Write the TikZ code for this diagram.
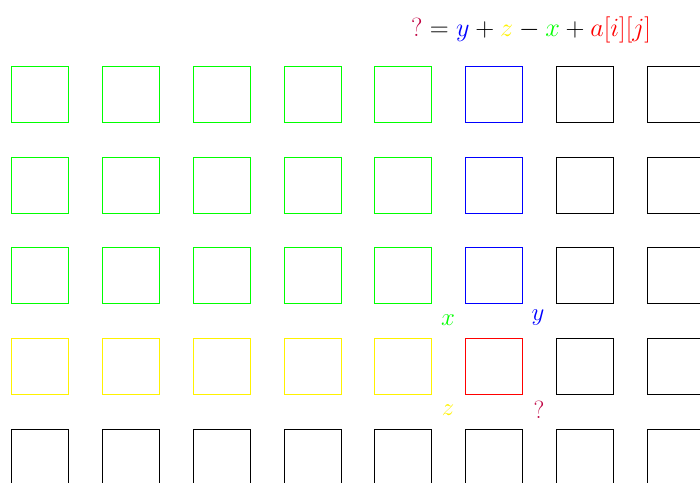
\documentclass[tikz,border=0pt]{standalone}
\usepackage{xcolor}
\usepackage{graphicx}
\begin{document}
\begin{tikzpicture}[x=1pt,y=-1pt,
  cell/.style={draw,line width=1pt,minimum width=57pt,minimum height=56pt,inner sep=0pt,outer sep=0pt},
  lbl/.style={font=\Huge,inner sep=0pt}]
\useasboundingbox (0,0) rectangle (700,482);
\foreach \r/\yt in {1/66,2/157,3/247,4/338,5/429}{
  \foreach \c/\xl in {1/11,2/102,3/193,4/284,5/374,6/465,7/556,8/647}{
    \pgfmathsetmacro{\xc}{\xl+0.5+28.5}
    \pgfmathsetmacro{\yc}{\yt+0.5+28}
    \pgfmathtruncatemacro{\code}{(\r<4)*((\c<6)*1+(\c==6)*2)+(\r==4)*((\c<6)*3+(\c==6)*4)}
    \ifcase\code\relax
      \def\col{black}\or\def\col{green}\or\def\col{blue}\or\def\col{yellow}\or\def\col{red}\fi
    \node[cell,draw=\col] (s-\r-\c) at (\xc,\yc) {};
  }
}
\node[lbl,text=green] (lx) at (448,320) {$x$};
\node[lbl,text=blue] (ly) at (538,318) {$y$};
\node[lbl,text=yellow] (lz) at (448,410) {$z$};
\node[lbl,text=purple] (lq) at (539,410) {$?$};
\node[lbl,anchor=base west] (formula) at (411,36) {\scalebox{1.055}{$\textcolor{purple}{?}=\textcolor{blue}{y}+\textcolor{yellow}{z}-\textcolor{green}{x}+\textcolor{red}{a[i][j]}$}};
\end{tikzpicture}
\end{document}
